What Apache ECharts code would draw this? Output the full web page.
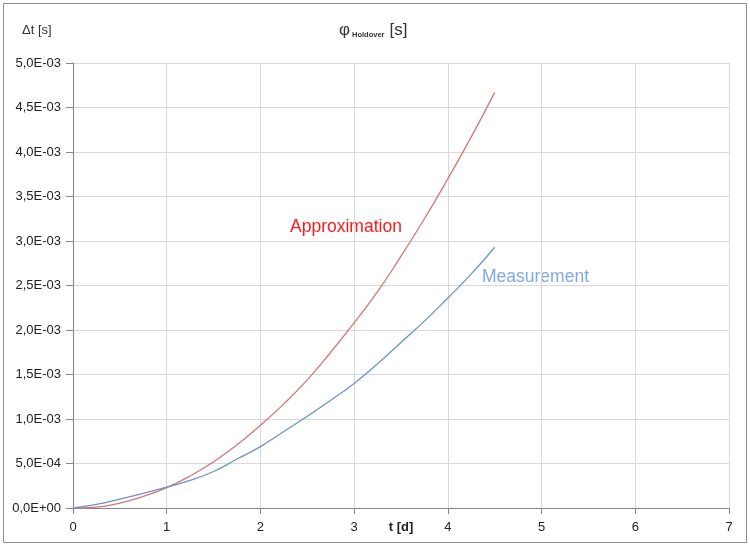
<!DOCTYPE html>
<html><head><meta charset="utf-8">
<script src="https://cdn.jsdelivr.net/npm/echarts@6/dist/echarts.min.js"></script>
<style>html,body{margin:0;padding:0;background:#fff}#c{width:750px;height:546px}</style>
</head><body><div id="c"></div>
<script>
const tDays = [0,0.25,0.5,0.75,1,1.25,1.5,1.75,2,2.25,2.5,2.75,3,3.25,3.5,3.75,4,4.25,4.5];
const approximation = [0,0.01,0.055,0.13,0.23,0.36,0.52,0.71,0.93,1.17,1.44,1.75,2.08,2.43,2.83,3.25,3.70,4.17,4.67];
const measurement = [0,0.04,0.10,0.165,0.235,0.31,0.41,0.55,0.69,0.86,1.03,1.21,1.40,1.62,1.86,2.10,2.36,2.63,2.93];
const yTickLabels = {0:'0,0E+00',0.5:'5,0E-04',1:'1,0E-03',1.5:'1,5E-03',2:'2,0E-03',2.5:'2,5E-03',3:'3,0E-03',3.5:'3,5E-03',4:'4,0E-03',4.5:'4,5E-03',5:'5,0E-03'};
const xTickLabels = ['0','1','2','3','4','5','6','7'];

const font = 'Liberation Sans, Arial, sans-serif';
const chart = echarts.init(document.getElementById('c'));
chart.setOption({
  animation:false,
  backgroundColor:'#fff',
  grid:{left:73,right:21,top:63,bottom:38,containLabel:false,outerBoundsMode:'none'},
  xAxis:{type:'value',min:0,max:7,interval:1,
    axisLine:{lineStyle:{color:'#868686'}},
    axisTick:{show:true,length:6,lineStyle:{color:'#868686'}},
    axisLabel:{color:'#222',fontSize:13,fontFamily:font,margin:13,formatter:v=>xTickLabels[Math.round(v)]},
    splitLine:{show:true,lineStyle:{color:'#d9d9d9'}},
    name:'t [d]',nameLocation:'middle',nameGap:13,nameMoveOverlap:false,
    nameTextStyle:{fontWeight:'bold',fontSize:13,color:'#222',fontFamily:font,verticalAlign:'top'}},
  yAxis:{type:'value',min:0,max:5,interval:0.5,
    axisLine:{show:true,lineStyle:{color:'#868686'}},
    axisTick:{show:true,length:7,lineStyle:{color:'#868686'}},
    axisLabel:{color:'#222',fontSize:13,fontFamily:font,margin:12,formatter:v=>yTickLabels[Math.round(v*10)/10]},
    splitLine:{show:true,lineStyle:{color:'#d9d9d9'}}},
  series:[
    {type:'line',data:tDays.map((t,i)=>[t,approximation[i]]),showSymbol:false,smooth:true,
      lineStyle:{color:'#d47676',width:1.3},z:3},
    {type:'line',data:tDays.map((t,i)=>[t,measurement[i]]),showSymbol:false,smooth:true,
      lineStyle:{color:'#6a93cc',width:1.3},z:4}
  ],
  graphic:[
    {type:'rect',shape:{x:3.5,y:3.5,width:743,height:539},style:{fill:'none',stroke:'#8c8c8c',lineWidth:1},silent:true},
    {type:'text',left:22,top:24,style:{text:'Δt [s]',fontSize:13,fontFamily:font,fill:'#333'}},
    {type:'text',left:339,top:22,style:{
      text:'{a|φ}{b|Holdover}{c|[s]}',
      rich:{a:{fontSize:17,fontFamily:font,fill:'#333'},
            b:{fontSize:7.5,fontWeight:'bold',fontFamily:font,fill:'#333',padding:[9,0,0,2]},
            c:{fontSize:17,fontFamily:font,fill:'#333',padding:[0,0,0,5]}}}},
    {type:'text',left:290,top:218,style:{text:'Approximation',fontSize:17.5,fontFamily:font,fill:'#ff1a1a'}},
    {type:'text',left:482,top:268,style:{text:'Measurement',fontSize:17.5,fontFamily:font,fill:'#80a8e8'}}
  ]
});
</script></body></html>
